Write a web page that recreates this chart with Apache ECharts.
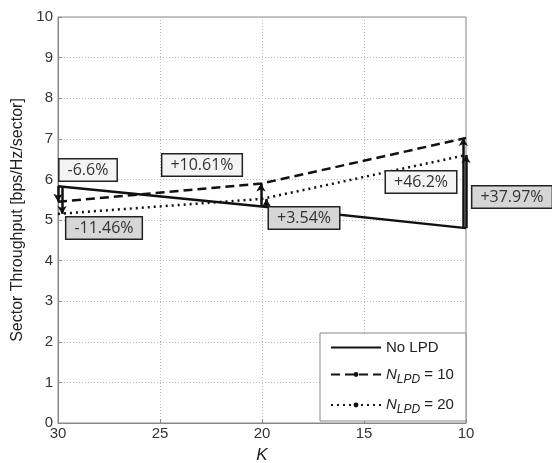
<!DOCTYPE html>
<html lang="en">
<head>
<meta charset="UTF-8">
<title>Sector Throughput vs K</title>
<script src="https://cdn.jsdelivr.net/npm/echarts@6/dist/echarts.min.js"></script>
<style>
  html, body { margin: 0; padding: 0; background: #fff; }
  #main { width: 552px; height: 463px; }
</style>
</head>
<body>
<div id="main"></div>
<script type="text/javascript">
"use strict";
// values
var kValues = [30, 20, 10];
var noLpd = [5.83, 5.33, 4.8];
var nLpd10 = [5.45, 5.9, 7.02];
var nLpd20 = [5.15, 5.52, 6.6];
var gain10 = ['-6.6%', '+10.61%', '+46.2%'];
var gain20 = ['-11.46%', '+3.54%', '+37.97%'];
var yTicks = [0, 1, 2, 3, 4, 5, 6, 7, 8, 9, 10];

// label box centres (pixels) and arrow x shifts (in K units)
var boxPos10 = [[88, 170], [202, 165], [421, 182]];
var boxPos20 = [[104, 228], [304, 218], [512, 197]];
var shift10 = [0, 0.05, 0.13];
var shift20 = [-0.2, -0.22, 0];

var font = 'Liberation Sans, Arial, sans-serif';
var boxFont = 'Open Sans, Noto Sans, sans-serif';

function pairs(vals) {
    return kValues.map(function (k, i) { return [k, vals[i]]; });
}
function arrows(vals, shift) {
    return kValues.map(function (k, i) {
        return [{ coord: [k + shift[i], noLpd[i]] }, { coord: [k + shift[i], vals[i]] }];
    });
}
function boxes(texts, pos, bg) {
    return texts.map(function (t, i) {
        return {
            x: pos[i][0], y: pos[i][1], value: t,
            label: {
                show: true, position: 'inside', formatter: t,
                color: '#333', fontFamily: boxFont, fontSize: 16,
                backgroundColor: bg, borderColor: '#222', borderWidth: 1.5,
                padding: [3, 8, 2, 8]
            }
        };
    });
}

var myChart = echarts.init(document.getElementById('main'));
var option = {
    animation: false,
    grid: {
        left: 58, right: 86, top: 17, bottom: 40, outerBoundsMode: 'none',
        show: true, borderColor: '#888', borderWidth: 1
    },
    xAxis: {
        type: 'value', inverse: true, min: 10, max: 30, interval: 5,
        name: 'K', nameLocation: 'middle', nameGap: 24,
        nameTextStyle: { fontFamily: font, fontSize: 17, fontStyle: 'italic', color: '#222' },
        axisLine: { show: true, lineStyle: { color: '#888' } },
        axisTick: { show: true, inside: true, length: 4, lineStyle: { color: '#888' } },
        axisLabel: { fontFamily: font, fontSize: 15, color: '#333', margin: 3 },
        splitLine: { show: true, lineStyle: { color: '#bbb', type: [1, 2] } }
    },
    yAxis: {
        type: 'value', min: yTicks[0], max: yTicks[yTicks.length - 1], interval: 1,
        name: 'Sector Throughput [bps/Hz/sector]', nameLocation: 'middle', nameGap: 32,
        nameTextStyle: { fontFamily: font, fontSize: 16, color: '#222' },
        axisLine: { show: true, lineStyle: { color: '#888' } },
        axisTick: { show: true, inside: true, length: 4, lineStyle: { color: '#888' } },
        axisLabel: { fontFamily: font, fontSize: 15, color: '#333', margin: 5 },
        splitLine: { show: true, lineStyle: { color: '#bbb', type: [1, 2] } }
    },
    legend: {
        orient: 'vertical', left: 320, top: 333, itemWidth: 50, itemHeight: 6, itemGap: 12,
        backgroundColor: '#fff', borderColor: '#888', borderWidth: 1, padding: [7, 12, 5, 10],
        textStyle: {
            fontFamily: font, fontSize: 15, color: '#222',
            rich: {
                n: { fontFamily: font, fontSize: 15, fontStyle: 'italic', color: '#222' },
                s: { fontFamily: font, fontSize: 12, fontStyle: 'italic', color: '#222', verticalAlign: 'bottom', padding: [10, 0, 0, 0] },
                t: { fontFamily: font, fontSize: 15, color: '#222' }
            }
        },
        formatter: function (name) {
            if (name === 'No LPD') return name;
            return '{n|N}{s|LPD}{t| = ' + name.split('=')[1] + '}';
        },
        data: [
            { name: 'No LPD', itemStyle: { opacity: 0 } },
            'NLPD=10', 'NLPD=20'
        ]
    },
    series: [
        {
            name: 'No LPD', type: 'line', data: pairs(noLpd), symbol: 'none', clip: false,
            lineStyle: { color: '#111', width: 2.5, type: 'solid' }, itemStyle: { color: '#111' },
            markPoint: {
                symbol: 'rect', symbolSize: 1, itemStyle: { color: 'rgba(0,0,0,0)' },
                data: boxes(gain10, boxPos10, '#f4f4f4').concat(boxes(gain20, boxPos20, '#d6d6d6'))
            }
        },
        {
            name: 'NLPD=10', type: 'line', data: pairs(nLpd10), symbol: 'circle', symbolSize: 4, showSymbol: false, clip: false,
            lineStyle: { color: '#111', width: 2.5, type: [9, 5] }, itemStyle: { color: '#111' },
            markLine: {
                silent: true, symbol: ['none', 'arrow'], symbolSize: [7, 8], label: { show: false },
                lineStyle: { color: '#111', width: 2.5, type: 'solid' },
                data: arrows(nLpd10, shift10)
            }
        },
        {
            name: 'NLPD=20', type: 'line', data: pairs(nLpd20), symbol: 'circle', symbolSize: 4, showSymbol: false, clip: false,
            lineStyle: { color: '#111', width: 2.5, type: [2, 4] }, itemStyle: { color: '#111' },
            markLine: {
                silent: true, symbol: ['none', 'arrow'], symbolSize: [7, 8], label: { show: false },
                lineStyle: { color: '#111', width: 2.5, type: 'solid' },
                data: arrows(nLpd20, shift20)
            }
        }
    ]
};
myChart.setOption(option);
</script>
</body>
</html>
